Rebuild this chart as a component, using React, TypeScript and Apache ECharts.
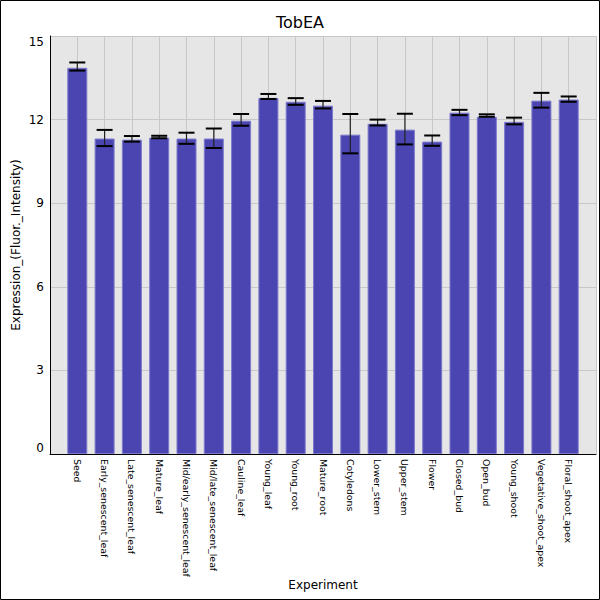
import React, { useEffect, useRef } from "react";
import * as echarts from "echarts";

const categories = [
  "Seed",
  "Early_senescent_leaf",
  "Late_senescent_leaf",
  "Mature_leaf",
  "Mid/early_senescent_leaf",
  "Mid/late_senescent_leaf",
  "Cauline_leaf",
  "Young_leaf",
  "Young_root",
  "Mature_root",
  "Cotyledons",
  "Lower_stem",
  "Upper_stem",
  "Flower",
  "Closed_bud",
  "Open_bud",
  "Young_shoot",
  "Vegetative_shoot_apex",
  "Floral_shoot_apex",
];

const means = [
  13.86, 11.32, 11.28, 11.35, 11.32, 11.32, 11.96, 12.78, 12.64, 12.5, 11.46,
  11.85, 11.64, 11.21, 12.25, 12.1, 11.92, 12.68, 12.72,
];

const errorHigh = [
  14.05, 11.63, 11.41, 11.42, 11.53, 11.68, 12.2, 12.92, 12.77, 12.67, 12.2,
  12.0, 12.21, 11.43, 12.35, 12.19, 12.07, 12.96, 12.83,
];

const errorLow = [
  13.76, 11.05, 11.21, 11.33, 11.13, 10.98, 11.78, 12.74, 12.53, 12.4, 10.79,
  11.79, 11.11, 11.06, 12.16, 12.1, 11.83, 12.43, 12.64,
];

const yTicks = { min: 0, max: 15, interval: 3 };

export default function App() {
  const ref = useRef<HTMLDivElement>(null);

  useEffect(() => {
    document.body.style.margin = "0";
    if (!ref.current) return;
    const chart = echarts.init(ref.current, null, { renderer: "svg" });
    const font = "DejaVu Sans";

    const barData = means.map((v, i) => [i, v]);
    const errData = means.map((_, i) => [i, errorLow[i], errorHigh[i]]);

    chart.setOption({
      animation: false,
      backgroundColor: "#ffffff",
      textStyle: { fontFamily: font },
      title: {
        text: "TobEA",
        left: "center",
        top: 9,
        textStyle: {
          fontFamily: font,
          fontSize: 16,
          fontWeight: "normal",
          color: "#000",
        },
      },
      graphic: [
        {
          type: "rect",
          shape: { x: 0.5, y: 0.5, width: 599, height: 599 },
          style: { fill: "none", stroke: "#000", lineWidth: 1 },
          silent: true,
          z: 100,
        },
      ],
      grid: {
        left: 50,
        right: 4,
        top: 36,
        bottom: 146,
        show: true,
        backgroundColor: "#e6e6e6",
        borderWidth: 0,
      },
      xAxis: {
        type: "value",
        min: -1,
        max: categories.length,
        interval: 1,
        name: "Experiment",
        nameLocation: "middle",
        nameGap: 125,
        nameMoveOverlap: false,
        nameTextStyle: { fontFamily: font, fontSize: 12, color: "#000" },
        axisLine: { show: true, onZero: false, lineStyle: { color: "#000", width: 1 } },
        axisTick: { show: false },
        splitLine: { show: true, lineStyle: { color: "#c8c8c8", width: 1 } },
        axisLabel: {
          rotate: -90,
          margin: 5,
          fontFamily: font,
          fontSize: 9.4,
          color: "#000",
          formatter: (v: number) => {
            const i = Math.round(v);
            return categories[i] !== undefined && Math.abs(v - i) < 1e-6
              ? categories[i]
              : "";
          },
        },
      },
      yAxis: {
        type: "value",
        min: yTicks.min,
        max: yTicks.max,
        interval: yTicks.interval,
        name: "Expression_(Fluor._Intensity)",
        nameLocation: "middle",
        nameGap: 28,
        nameMoveOverlap: false,
        nameTextStyle: { fontFamily: font, fontSize: 12, color: "#000" },
        axisLine: { show: true, onZero: false, lineStyle: { color: "#000", width: 1 } },
        axisTick: { show: false },
        splitLine: { show: true, lineStyle: { color: "#c8c8c8", width: 1 } },
        axisLabel: {
          fontFamily: font,
          fontSize: 12,
          color: "#000",
          margin: 6,
          verticalAlignMaxLabel: "top",
          verticalAlignMinLabel: "bottom",
        },
      },
      series: [
        {
          type: "bar",
          data: barData,
          barWidth: 20,
          itemStyle: {
            color: "#4a45b1",
            borderColor: "#7c79cc",
            borderWidth: 1,
          },
        },
        {
          type: "custom",
          data: errData,
          z: 10,
          renderItem: (params: any, api: any) => {
            const x = api.value(0);
            const lo = api.coord([x, api.value(1)]);
            const hi = api.coord([x, api.value(2)]);
            const half = 8;
            return {
              type: "group",
              children: [
                {
                  type: "line",
                  shape: { x1: lo[0], y1: lo[1], x2: hi[0], y2: hi[1] },
                  style: { stroke: "#222", lineWidth: 1.2 },
                },
                {
                  type: "line",
                  shape: { x1: hi[0] - half, y1: hi[1], x2: hi[0] + half, y2: hi[1] },
                  style: { stroke: "#000", lineWidth: 2 },
                },
                {
                  type: "line",
                  shape: { x1: lo[0] - half, y1: lo[1], x2: lo[0] + half, y2: lo[1] },
                  style: { stroke: "#000", lineWidth: 2 },
                },
              ],
            };
          },
        },
      ],
    });

    return () => chart.dispose();
  }, []);

  return <div ref={ref} style={{ width: 600, height: 600 }} />;
}
